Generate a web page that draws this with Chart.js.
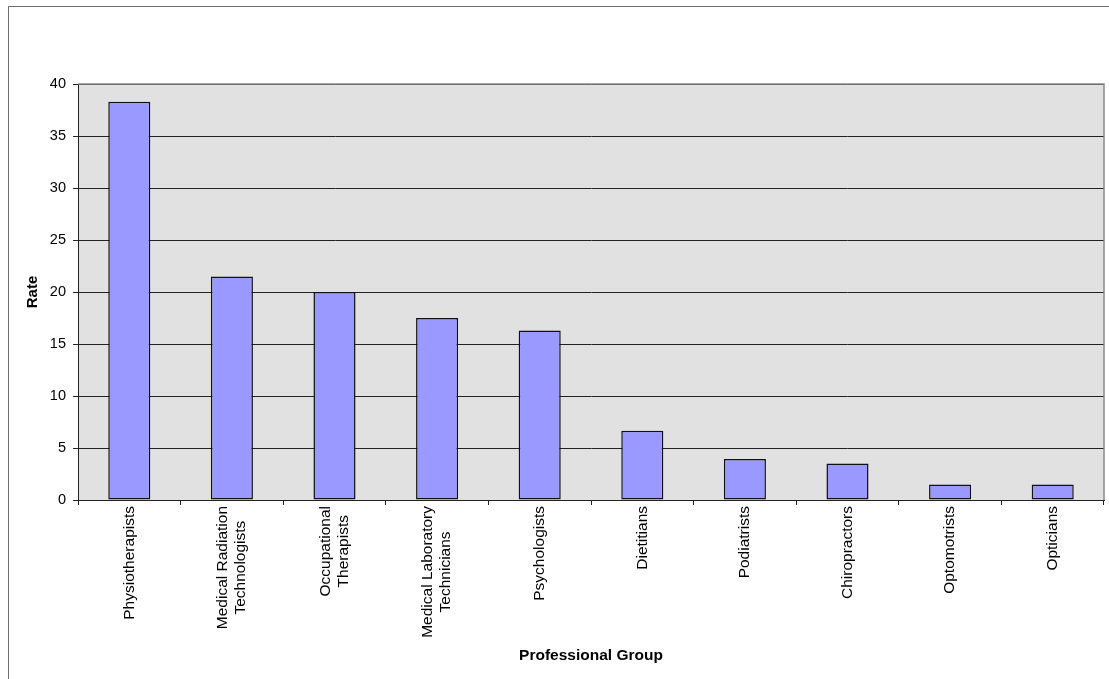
<!DOCTYPE html>
<html>
<head>
<meta charset="utf-8">
<script src="https://cdn.jsdelivr.net/npm/chart.js@4/dist/chart.umd.min.js"></script>
<style>
  html, body { margin: 0; padding: 0; background: #fff; overflow: hidden; }
  #wrap { position: relative; width: 1109px; height: 679px; }
  #frame { position: absolute; left: 8px; top: 6px; width: 1200px; height: 800px; border: 1px solid #6e6e6e; box-sizing: border-box; pointer-events: none; }
  canvas { position: absolute; left: 0; top: 0; }
</style>
</head>
<body>
<div id="wrap">
  <canvas id="rateChart" width="1109" height="679"></canvas>
  <div id="frame"></div>
</div>
<script>
const groups = [
    "Physiotherapists",
    ["Medical Radiation", "Technologists"],
    ["Occupational", "Therapists"],
    ["Medical Laboratory", "Technicians"],
    "Psychologists",
    "Dietitians",
    "Podiatrists",
    "Chiropractors",
    "Optomotrists",
    "Opticians"
];
const rates = [38.3, 21.5, 20.0, 17.5, 16.3, 6.65, 3.95, 3.5, 1.5, 1.5];
const yMin = 0;
const yMax = 40;
const yStep = 5;

const fontFamily = "'Liberation Sans', Arial, sans-serif";

// grey plot area with a thin border, like the spreadsheet original
const plotBackground = {
    id: 'plotBackground',
    beforeDraw(chart) {
        const { ctx, chartArea: a } = chart;
        ctx.save();
        ctx.fillStyle = '#e1e1e1';
        ctx.fillRect(a.left, a.top, a.right - a.left, a.bottom - a.top);
        ctx.restore();
    },
    beforeDatasetsDraw(chart) {
        const { ctx, chartArea: a } = chart;
        ctx.save();
        ctx.strokeStyle = '#8a8a8a';
        ctx.lineWidth = 1.5;
        ctx.beginPath();
        ctx.moveTo(a.left, a.top);
        ctx.lineTo(a.right, a.top);
        ctx.lineTo(a.right, a.bottom);
        ctx.stroke();
        ctx.restore();
    }
};

// rotated two-line labels: centre the block on the tick and centre the lines on each other
const centreMultiline = {
    id: 'centreMultiline',
    beforeDraw(chart) {
        const ctx = chart.ctx;
        const items = chart.scales.x.getLabelItems();
        items.forEach(item => {
            if (Array.isArray(item.label) && !item._centred) {
                const lh = item.font.lineHeight;
                ctx.save();
                ctx.font = item.font.string;
                const widest = Math.max(...item.label.map(s => ctx.measureText(s).width));
                ctx.restore();
                item.options.translation[0] -= (item.label.length - 1) * lh / 2;
                item.options.translation[1] += widest / 2;
                item.options.textAlign = 'center';
                item._centred = true;
            }
        });
    }
};

const ctx = document.getElementById('rateChart').getContext('2d');
new Chart(ctx, {
    type: 'bar',
    data: {
        labels: groups,
        datasets: [{
            label: 'Rate',
            data: rates,
            backgroundColor: '#9999ff',
            borderColor: '#111',
            borderWidth: 1.5,
            borderSkipped: false,
            categoryPercentage: 1.0,
            barPercentage: 0.41
        }]
    },
    options: {
        responsive: false,
        animation: false,
        layout: { padding: { left: 0, top: 84, right: 5, bottom: 0 } },
        plugins: {
            legend: { display: false },
            tooltip: { enabled: false }
        },
        scales: {
            x: {
                afterFit(scale) { scale.height = 179; },
                border: { color: '#222', width: 1 },
                grid: {
                    offset: true,
                    drawOnChartArea: false,
                    tickLength: 5,
                    color: '#222'
                },
                ticks: {
                    minRotation: 90,
                    maxRotation: 90,
                    autoSkip: false,
                    padding: 1,
                    color: '#000',
                    font: { family: fontFamily, size: 15.5, lineHeight: 1.16 }
                },
                title: {
                    display: true,
                    text: 'Professional Group',
                    color: '#000',
                    padding: { top: 0, bottom: 14 },
                    font: { family: fontFamily, size: 15.5, weight: 'bold' }
                }
            },
            y: {
                min: yMin,
                max: yMax,
                afterFit(scale) { scale.width = 78; },
                border: { color: '#222', width: 1 },
                grid: {
                    color: '#222',
                    lineWidth: 1,
                    tickLength: 5
                },
                ticks: {
                    stepSize: yStep,
                    padding: 7,
                    color: '#000',
                    font: { family: fontFamily, size: 14.5 }
                },
                title: {
                    display: true,
                    text: 'Rate',
                    color: '#000',
                    padding: { top: 24, bottom: 0 },
                    font: { family: fontFamily, size: 15, weight: 'bold' }
                }
            }
        }
    },
    plugins: [plotBackground, centreMultiline]
});
</script>
</body>
</html>
